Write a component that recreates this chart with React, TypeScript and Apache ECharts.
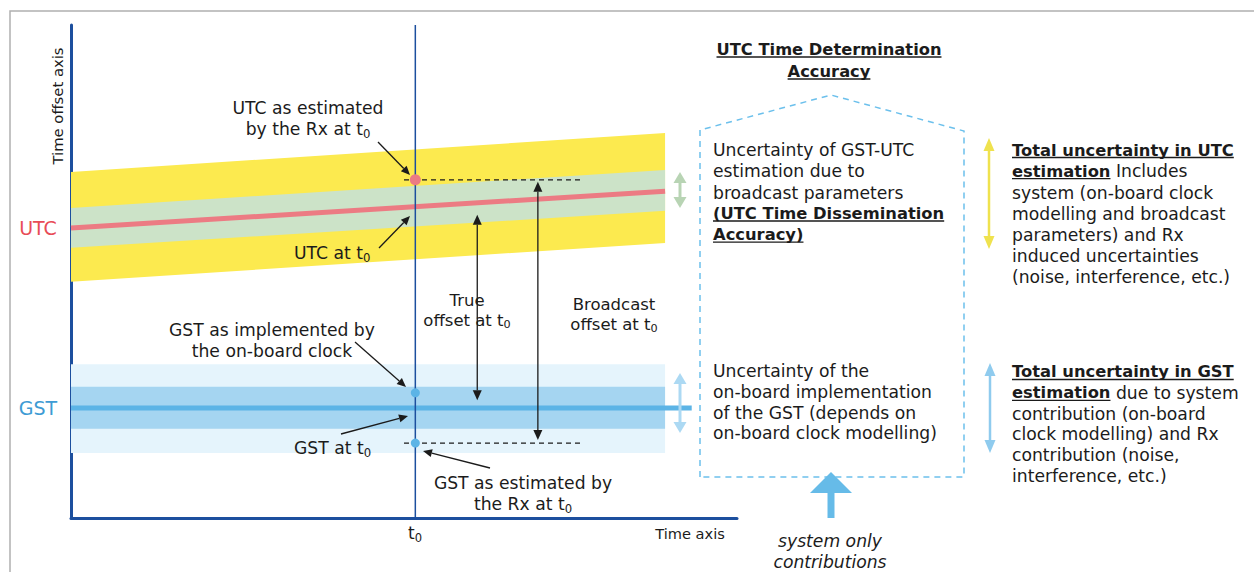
import React, { useEffect, useRef } from 'react';
import * as echarts from 'echarts';

// ---- data (chart units: x 0..100 time, y 0..100 time offset) ----
const xRange = [0, 100];
const yRange = [0, 100];
const t0 = 51.7;
const bandX = [0, 89.2];
const utcOuterTop = [70.2, 78.1];
const utcOuterBottom = [47.9, 55.8];
const utcInnerTop = [62.9, 70.6];
const utcInnerBottom = [54.8, 62.3];
const utcLine = [58.8, 66.3];
const gstLineX = [0, 93.2];
const gstLine = [22.3, 22.3];
const gstOuterTop = [31.2, 31.2];
const gstOuterBottom = [13.2, 13.2];
const gstInnerTop = [26.6, 26.6];
const gstInnerBottom = [18.1, 18.1];
const utcEstimated = 68.6;
const gstImplemented = 25.4;
const gstEstimated = 15.2;
const dashX = [50.0, 76.7];
const offsetNames = ['True offset', 'Broadcast offset'];
const offsetX = [61.0, 70.1];
const offsetTop = [61.5, 68.2];
const offsetBottom = [23.9, 15.8];

const FONT = '"DejaVu Sans", sans-serif';
const INK = '#1b1b1b';
const AXIS = '#1c4f9e';
const BODY = 17.2;
const BOLD_RATIO = 0.95;

function head(tip: number[], from: number[], len: number, hw: number) {
  const dx = tip[0] - from[0], dy = tip[1] - from[1];
  const d = Math.hypot(dx, dy) || 1;
  const ux = dx / d, uy = dy / d;
  const bx = tip[0] - ux * len, by = tip[1] - uy * len;
  return {
    pts: [[tip[0], tip[1]], [bx - uy * hw, by + ux * hw], [bx + uy * hw, by - ux * hw]],
    base: [bx, by],
  };
}

function arrowEls(from: number[], to: number[], color: string, lw: number, len: number, hw: number, both: boolean, z = 50) {
  const h2 = head(to, from, len, hw);
  const h1 = both ? head(from, to, len, hw) : null;
  const start = h1 ? h1.base : from;
  const els: any[] = [
    { type: 'line', z, shape: { x1: start[0], y1: start[1], x2: h2.base[0], y2: h2.base[1] }, style: { stroke: color, lineWidth: lw } },
    { type: 'polygon', z, shape: { points: h2.pts }, style: { fill: color } },
  ];
  if (h1) els.push({ type: 'polygon', z, shape: { points: h1.pts }, style: { fill: color } });
  return els;
}

function measure(text: string, font: string) {
  const c = document.createElement('canvas').getContext('2d')!;
  c.font = font;
  return c.measureText(text).width;
}

function txt(x: number, y: number, text: string, o: any = {}) {
  const size = o.fontSize || BODY;
  return {
    type: 'text', x, y, z: 100, rotation: o.rotation || 0,
    style: {
      text, fontFamily: FONT, fontSize: size, fontWeight: o.fontWeight || 'normal', fontStyle: o.fontStyle || 'normal',
      fill: o.fill || INK, align: o.align || 'left', verticalAlign: o.verticalAlign || 'top', lineHeight: o.lineHeight || size * 1.25,
      rich: {
        sub: { fontSize: size * 0.68, fontFamily: FONT, fill: INK, verticalAlign: 'bottom', lineHeight: size * 0.68 },
        b: { fontSize: size * BOLD_RATIO, fontFamily: FONT, fontWeight: 'bold', fill: INK },
      },
    },
  };
}

function underline(x: number, y: number, text: string, size: number, align = 'left') {
  const w = measure(text, `bold ${size}px ${FONT}`);
  const x1 = align === 'center' ? x - w / 2 : x;
  return { type: 'line', z: 100, shape: { x1, y1: y, x2: x1 + w, y2: y }, style: { stroke: INK, lineWidth: 1.3 } };
}

export default function App() {
  const ref = useRef<HTMLDivElement>(null);
  useEffect(() => {
    document.body.style.margin = '0';
    const chart = echarts.init(ref.current!, null, { renderer: 'svg' });

    const band = (xs: number[], tops: number[], bottoms: number[], color: string) => ({
      type: 'custom', coordinateSystem: 'cartesian2d', silent: true, z: 1, data: [[xs[0], tops[0]]],
      renderItem: (_p: any, api: any) => ({
        type: 'polygon',
        shape: { points: [api.coord([xs[0], tops[0]]), api.coord([xs[1], tops[1]]), api.coord([xs[1], bottoms[1]]), api.coord([xs[0], bottoms[0]])] },
        style: { fill: color },
      }),
    });

    const B = BODY * BOLD_RATIO;
    const graphics: any[] = [];
    // frame
    graphics.push({ type: 'polyline', z: 1, shape: { points: [[10, 572], [10, 11], [1254, 11]] }, style: { stroke: '#b0b0b0', lineWidth: 1.5, fill: null } });

    // axis names & labels
    graphics.push(txt(57, 106, 'Time offset axis', { fontSize: 14.8, rotation: Math.PI / 2, align: 'center', verticalAlign: 'middle' }));
    graphics.push(txt(38, 228, 'UTC', { fontSize: 19, fill: '#e84c57', align: 'center', verticalAlign: 'middle' }));
    graphics.push(txt(38, 408, 'GST', { fontSize: 19, fill: '#3e9bd4', align: 'center', verticalAlign: 'middle' }));
    graphics.push(txt(415, 533, 't{sub|0}', { fontSize: 17, align: 'center', verticalAlign: 'middle' }));
    graphics.push(txt(690, 533, 'Time axis', { fontSize: 14.6, align: 'center', verticalAlign: 'middle' }));

    // in-plot callouts
    graphics.push(txt(308, 97.5, 'UTC as estimated\nby the Rx at t{sub|0}', { align: 'center', lineHeight: 21 }));
    graphics.push(...arrowEls([378, 142], [410, 175], INK, 1.3, 9, 4, false));
    graphics.push(txt(294, 253, 'UTC at t{sub|0}', { verticalAlign: 'middle' }));
    graphics.push(...arrowEls([379, 248], [410, 216], INK, 1.3, 9, 4, false));
    graphics.push(txt(272, 319.5, 'GST as implemented by\nthe on-board clock', { align: 'center', lineHeight: 21 }));
    graphics.push(...arrowEls([355, 342], [406, 387], INK, 1.3, 9, 4, false));
    graphics.push(txt(294, 448, 'GST at t{sub|0}', { verticalAlign: 'middle' }));
    graphics.push(...arrowEls([341, 434], [408, 416], INK, 1.3, 9, 4, false));
    graphics.push(txt(523, 472.5, 'GST as estimated by\nthe Rx at t{sub|0}', { align: 'center', lineHeight: 21 }));
    graphics.push(...arrowEls([490, 468], [423, 451], INK, 1.3, 9, 4, false));
    graphics.push(txt(467, 290.5, 'True\noffset at t{sub|0}', { fontSize: 16.5, align: 'center', lineHeight: 19.8 }));
    graphics.push(txt(614, 294.5, 'Broadcast\noffset at t{sub|0}', { fontSize: 16.5, align: 'center', lineHeight: 19.8 }));

    // band-width double arrows
    graphics.push(...arrowEls([680, 172], [680, 208], '#b8d4b4', 3, 11, 6.5, true));
    graphics.push(...arrowEls([680, 373], [680, 433], '#acd9f3', 3, 11, 6.5, true));

    // right panel: title + house
    graphics.push(txt(829, 38, 'UTC Time Determination\nAccuracy', { fontSize: 16.3, fontWeight: 'bold', align: 'center', lineHeight: 22 }));
    graphics.push(underline(829, 57, 'UTC Time Determination', 16.3, 'center'));
    graphics.push(underline(829, 79, 'Accuracy', 16.3, 'center'));
    graphics.push({ type: 'polyline', z: 10, shape: { points: [[700, 477], [700, 130], [831, 95], [964, 131], [964, 477], [700, 477]] }, style: { stroke: '#6cc0ec', lineWidth: 1.5, lineDash: [6, 5], fill: null } });
    graphics.push(txt(713, 139.5, 'Uncertainty of GST-UTC\nestimation due to\nbroadcast parameters\n{b|(UTC Time Dissemination}\n{b|Accuracy)}', { lineHeight: 21.2 }));
    graphics.push(underline(713, 221, '(UTC Time Dissemination', B));
    graphics.push(underline(713, 242.2, 'Accuracy)', B));
    graphics.push(txt(713, 361, 'Uncertainty of the\non-board implementation\nof the GST (depends on\non-board clock modelling)', { lineHeight: 20.7 }));
    // system arrow
    graphics.push({ type: 'rect', z: 10, shape: { x: 827.5, y: 490, width: 7, height: 28 }, style: { fill: '#66bbe8' } });
    graphics.push({ type: 'polygon', z: 10, shape: { points: [[831, 472], [810, 493], [852, 493]] }, style: { fill: '#66bbe8' } });
    graphics.push(txt(830, 531, 'system only\ncontributions', { fontStyle: 'italic', align: 'center', lineHeight: 20.5 }));

    // far right texts
    graphics.push(...arrowEls([989, 138], [989, 249], '#efe24e', 2.5, 13, 5.5, true));
    graphics.push(txt(1012, 139.5, '{b|Total uncertainty in UTC}\n{b|estimation} Includes\nsystem (on-board clock\nmodelling and broadcast\nparameters) and Rx\ninduced uncertainties\n(noise, interference, etc.)', { lineHeight: 21.2 }));
    graphics.push(underline(1012, 157.5, 'Total uncertainty in UTC', B));
    graphics.push(underline(1012, 178.7, 'estimation', B));
    graphics.push(...arrowEls([990, 363], [990, 453], '#8fcbee', 2.5, 13, 5.5, true));
    graphics.push(txt(1012, 361.6, '{b|Total uncertainty in GST}\n{b|estimation} due to system\ncontribution (on-board\nclock modelling) and Rx\ncontribution (noise,\ninterference, etc.)', { lineHeight: 20.8 }));
    graphics.push(underline(1012, 379.5, 'Total uncertainty in GST', B));
    graphics.push(underline(1012, 400.3, 'estimation', B));

    const axisCommon = {
      type: 'value', axisLine: { show: true, onZero: false, lineStyle: { color: AXIS, width: 3 } },
      axisTick: { show: false }, axisLabel: { show: false }, splitLine: { show: false },
    };

    const option: any = {
      animation: false,
      grid: { left: 71, top: 25, width: 666, height: 493, containLabel: false },
      xAxis: { ...axisCommon, min: xRange[0], max: xRange[1] },
      yAxis: { ...axisCommon, min: yRange[0], max: yRange[1] },
      series: [
        band(bandX, utcOuterTop, utcOuterBottom, '#fcea4f'),
        band(bandX, utcInnerTop, utcInnerBottom, '#cce3c8'),
        band(bandX, gstOuterTop, gstOuterBottom, '#e5f4fc'),
        band(bandX, gstInnerTop, gstInnerBottom, '#a5d5f1'),
        { name: 'UTC', type: 'line', z: 2, symbol: 'none', silent: true, data: bandX.map((x, i) => [x, utcLine[i]]), lineStyle: { color: '#ec7b83', width: 5 } },
        { name: 'GST', type: 'line', z: 2, symbol: 'none', silent: true, data: gstLineX.map((x, i) => [x, gstLine[i]]), lineStyle: { color: '#5cb4e6', width: 5 } },
        { name: 't0', type: 'line', z: 3, symbol: 'none', silent: true, data: [[t0, yRange[0]], [t0, yRange[1]]], lineStyle: { color: AXIS, width: 1.5 } },
        { name: 'UTC dash', type: 'line', z: 3, symbol: 'none', silent: true, data: dashX.map((x) => [x, utcEstimated]), lineStyle: { color: INK, width: 1.2, type: [5, 4] } },
        { name: 'GST dash', type: 'line', z: 3, symbol: 'none', silent: true, data: dashX.map((x) => [x, gstEstimated]), lineStyle: { color: INK, width: 1.2, type: [5, 4] } },
        {
          name: 'offsets', type: 'custom', coordinateSystem: 'cartesian2d', silent: true, z: 4,
          data: offsetNames.map((_n, i) => [offsetX[i], offsetTop[i], offsetBottom[i]]),
          renderItem: (_p: any, api: any) => {
            const top = api.coord([api.value(0), api.value(1)]);
            const bot = api.coord([api.value(0), api.value(2)]);
            return { type: 'group', children: arrowEls(top, bot, INK, 1.3, 10, 4.5, true) };
          },
        },
        { name: 'UTC est', type: 'scatter', z: 5, silent: true, symbolSize: 11, data: [[t0, utcEstimated]], itemStyle: { color: '#ec7b83', opacity: 1 } },
        { name: 'GST pts', type: 'scatter', z: 5, silent: true, symbolSize: 9, data: [[t0, gstImplemented], [t0, gstEstimated]], itemStyle: { color: '#5cb4e6', opacity: 1 } },
      ],
      graphic: { elements: graphics },
    };
    chart.setOption(option);
    return () => chart.dispose();
  }, []);
  return <div ref={ref} style={{ position: 'absolute', left: 0, top: 0, width: 1254, height: 572 }} />;
}
